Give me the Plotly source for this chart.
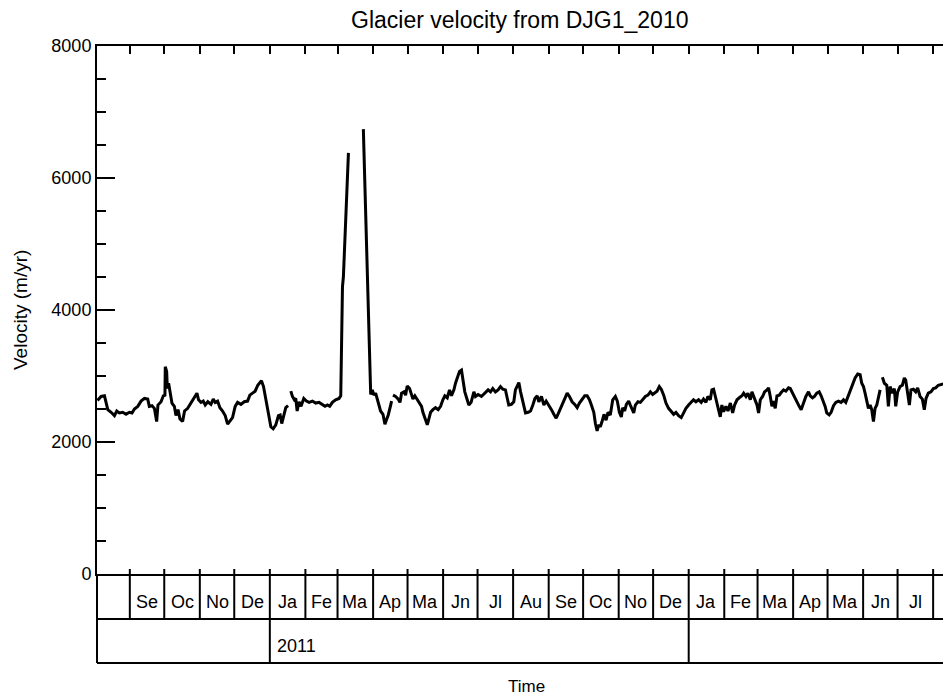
import pandas as pd
import plotly.graph_objects as go

# ---------------- data ----------------
# days since 2010-08-01 ; None in velocity = data gap
base_date = "2010-08-01"
day_offsets = [
    2.8, 6.0, 8.9, 10.3, 11.8, 14.7, 17.6, 19.6, 21.9, 24.8,
    27.7, 30.6, 32.9, 35.0, 37.9, 40.8, 43.7, 46.6, 48.0, 50.3,
    52.4, 54.4, 55.5, 58.2, 60.2, 61.6, 61.9, 63.1, 63.7, 64.8,
    66.0, 67.7, 69.8, 71.2, 73.0, 74.7, 77.0, 78.7, 81.4, 83.4,
    85.7, 88.0, 89.5, 90.9, 93.0, 95.0, 96.7, 99.0, 101.7, 103.7,
    105.4, 107.5, 109.5, 111.8, 114.1, 116.2, 118.2, 120.5, 122.8, 124.9,
    127.8, 130.7, 133.6, 135.6, 137.9, 140.2, 142.5, 145.7, 147.5, 149.5,
    151.8, 153.9, 155.9, 158.2, 160.5, 162.0, 163.4, 165.5, 166.9, 168.9,
    170.0,
    171.3, 172.7, 174.4, 175.6, 176.8, 178.5, 180.2, 182.6, 184.9, 187.2,
    190.1, 193.0, 195.9, 198.8, 201.1, 203.2, 205.2, 207.5, 210.4, 213.3,
    214.8, 216.3, 217.1, 221.5,
    228.0,
    234.5, 238.0, 240.9, 242.3, 243.7, 245.2, 246.6, 248.1, 249.5, 251.6,
    253.3, 254.5, 256.2, 258.3, 259.1,
    259.7,
    260.3, 262.6, 264.9, 266.4, 267.8, 269.9, 271.3, 272.7, 274.8, 276.5,
    277.7, 279.4, 281.5, 283.5, 285.2, 286.4, 288.1, 290.2, 291.6, 293.1,
    295.1, 297.4, 299.7, 301.8, 303.8, 305.5, 307.6, 309.6, 311.3, 313.4,
    314.8, 316.3, 318.3, 320.0, 321.2, 322.9, 325.0, 326.4, 328.4, 330.8,
    332.2, 334.5, 337.4, 340.3, 343.2, 345.3, 347.3, 349.6, 351.9, 354.0,
    356.0, 358.3, 359.8, 361.2, 363.5, 365.6, 367.0, 369.0, 370.0, 371.5,
    373.5, 375.8, 378.1, 380.2, 382.2, 384.0, 386.0, 387.4, 389.7, 391.8,
    393.8, 396.1, 398.4, 400.5, 402.5, 404.8, 407.1, 409.2, 412.1, 414.1,
    416.4, 418.7, 420.8, 422.8, 425.1, 427.4, 429.5, 431.5, 433.2, 435.3,
    436.7, 438.2, 439.6, 441.0, 442.5, 444.2, 446.0, 447.7, 449.7, 451.8,
    454.1, 455.8, 457.6, 459.3, 460.5, 462.2, 463.7, 465.7, 467.1, 468.6,
    470.1, 471.5, 473.8, 475.9, 477.9, 480.2, 482.5, 484.6, 486.6, 488.3,
    490.4, 492.4, 494.1, 496.2, 498.2, 500.5, 502.8, 504.9, 506.9, 509.2,
    511.5, 513.6, 515.6, 517.9, 520.2, 522.2, 524.3, 526.6, 528.9, 530.9,
    533.0, 534.7, 536.8, 538.2, 539.7, 541.1, 542.6, 544.0, 545.5, 546.9,
    548.4, 550.4, 552.2, 554.3, 556.3, 558.0, 560.1, 562.1, 564.4, 565.9,
    567.9, 569.6, 571.7, 573.1, 575.4, 577.5, 578.9, 580.4, 582.4, 584.1,
    586.2, 587.6, 589.1, 590.5, 591.9, 593.4, 594.9, 596.9, 598.6, 600.7,
    602.7, 605.0, 606.5, 607.9, 610.2, 612.3, 614.3, 616.0, 618.1, 620.1,
    622.4, 623.9, 625.9, 627.6, 629.6, 631.7, 633.4, 635.4, 636.9, 638.3,
    640.4, 642.1, 644.2, 646.2, 648.5, 650.8, 652.9, 654.9, 657.2, 658.7,
    660.7, 663.0, 665.3, 667.4, 668.8, 670.3, 671.7, 673.2, 674.6, 676.1,
    677.5, 679.0, 680.4, 681.9, 683.3, 684.8,
    685.8,
    686.8, 688.5, 690.6, 692.0, 693.5, 695.5, 697.2, 698.4, 700.1, 702.2,
    704.2, 705.9, 707.1, 708.8, 710.3, 711.7, 713.8, 715.8, 717.5, 719.6,
    721.6, 723.3, 724.8, 726.8, 729.1, 731.2, 733.2, 735.5, 737.8, 739.8,
]
velocity = [
    2630, 2690, 2700, 2590, 2490, 2450, 2400, 2470, 2440, 2450,
    2420, 2450, 2440, 2500, 2540, 2620, 2660, 2650, 2540, 2550,
    2510, 2310, 2560, 2610, 2700, 2710, 3140, 3070, 2810, 2890,
    2740, 2590, 2540, 2400, 2490, 2350, 2310, 2470, 2510, 2570,
    2640, 2690, 2740, 2640, 2600, 2620, 2560, 2610, 2570, 2650,
    2600, 2620, 2520, 2470, 2400, 2270, 2320, 2370, 2540, 2600,
    2570, 2610, 2620, 2710, 2740, 2770, 2860, 2930, 2840, 2640,
    2420, 2230, 2200, 2260, 2400, 2410, 2280, 2450, 2520, 2550,
    None,
    2770, 2690, 2640, 2660, 2470, 2610, 2540, 2660, 2620, 2600,
    2620, 2590, 2600, 2560, 2540, 2560, 2540, 2600, 2640, 2660,
    2700, 4350, 4500, 6380,
    None,
    6740, 4560, 2720, 2790, 2710, 2740, 2640, 2560, 2470, 2420,
    2270, 2330, 2410, 2560, 2620,
    None,
    2710, 2690, 2650, 2600, 2740, 2760, 2710, 2850, 2810, 2710,
    2650, 2700, 2640, 2600, 2540, 2450, 2360, 2260, 2350, 2450,
    2490, 2520, 2490, 2540, 2640, 2700, 2670, 2790, 2700, 2790,
    2890, 2970, 3070, 3090, 2940, 2760, 2640, 2560, 2600, 2760,
    2690, 2720, 2690, 2740, 2790, 2760, 2810, 2760, 2790, 2840,
    2800, 2790, 2660, 2560, 2570, 2610, 2790, 2860, 2900, 2760,
    2590, 2440, 2450, 2470, 2560, 2660, 2700, 2610, 2690, 2560,
    2620, 2560, 2490, 2420, 2360, 2450, 2540, 2620, 2740, 2690,
    2610, 2570, 2520, 2590, 2640, 2700, 2700, 2640, 2560, 2450,
    2280, 2170, 2260, 2230, 2310, 2420, 2330, 2450, 2410, 2640,
    2690, 2620, 2450, 2380, 2520, 2470, 2570, 2620, 2560, 2510,
    2440, 2560, 2610, 2600, 2650, 2690, 2710, 2760, 2720, 2740,
    2770, 2840, 2800, 2710, 2590, 2510, 2470, 2420, 2450, 2400,
    2370, 2440, 2510, 2560, 2600, 2640, 2610, 2640, 2600, 2650,
    2600, 2690, 2640, 2790, 2800, 2690, 2590, 2510, 2380, 2560,
    2460, 2540, 2470, 2590, 2440, 2560, 2640, 2670, 2700, 2740,
    2690, 2740, 2640, 2760, 2640, 2560, 2440, 2640, 2690, 2760,
    2790, 2820, 2690, 2540, 2620, 2510, 2700, 2710, 2750, 2790,
    2770, 2820, 2810, 2760, 2690, 2590, 2540, 2490, 2600, 2690,
    2760, 2700, 2670, 2690, 2740, 2760, 2700, 2620, 2540, 2440,
    2410, 2450, 2550, 2600, 2620, 2600, 2640, 2600, 2710, 2790,
    2870, 2970, 3030, 3020, 2890, 2840, 2740, 2610, 2510, 2560,
    2490, 2310, 2510, 2560, 2660, 2790,
    None,
    2980, 2890, 2860, 2540, 2840, 2740, 2810, 2540, 2760, 2840,
    2860, 2970, 2940, 2760, 2560, 2790, 2800, 2760, 2820, 2690,
    2650, 2490, 2660, 2740, 2760, 2810, 2820, 2860, 2870, 2880,
]

month_labels = ["Se", "Oc", "No", "De", "Ja", "Fe", "Ma", "Ap", "Ma", "Jn", "Jl", "Au",
                "Se", "Oc", "No", "De", "Ja", "Fe", "Ma", "Ap", "Ma", "Jn", "Jl"]
year_labels = {"2011-01-01": "2011"}
year_starts = ["2011-01-01", "2012-01-01"]
y_ticks = [0, 2000, 4000, 6000, 8000]

x_start_day, x_end_day = 2.4, 739.6

# ---------------- figure ----------------
base = pd.Timestamp(base_date)
x = [base + pd.Timedelta(days=d) for d in day_offsets]
x0 = base + pd.Timedelta(days=x_start_day)
x1 = base + pd.Timedelta(days=x_end_day)

FONT = "Liberation Sans, Arial, Helvetica, sans-serif"
W, H = 943, 698
ML, MR, MT, MB = 97, 0, 46, 124
PH = H - MT - MB  # plot height in px

def py(px_below):  # paper y for pixels below the x axis line
    return -px_below / PH

fig = go.Figure(go.Scatter(
    x=x, y=velocity, mode="lines", connectgaps=False,
    line=dict(color="black", width=3), hoverinfo="skip",
))

row1 = py(45)
row2 = py(89)

shapes = []
month_starts = pd.date_range("2010-09-01", "2012-08-01", freq="MS")
for ms in month_starts:
    shapes.append(dict(type="line", xref="x", yref="paper", x0=ms, x1=ms,
                       y0=row1, y1=5 / PH, line=dict(color="black", width=2)))
for ys in year_starts:
    shapes.append(dict(type="line", xref="x", yref="paper", x0=ys, x1=ys,
                       y0=row2, y1=row1, line=dict(color="black", width=2)))
for yy in (row1, row2):
    shapes.append(dict(type="line", xref="paper", yref="paper", x0=0, x1=1,
                       y0=yy, y1=yy, line=dict(color="black", width=2)))
shapes.append(dict(type="line", xref="paper", yref="paper", x0=0, x1=0,
                   y0=row2, y1=0, line=dict(color="black", width=2)))

annotations = []
for i, lab in enumerate(month_labels):
    a, b = month_starts[i], month_starts[i + 1]
    annotations.append(dict(x=a + (b - a) / 2, y=py(28), xref="x", yref="paper",
                            text=lab, showarrow=False, xanchor="center", yanchor="middle",
                            font=dict(family=FONT, size=18, color="black")))
for ys, lab in year_labels.items():
    annotations.append(dict(x=ys, y=py(72), xref="x", yref="paper", text=lab,
                            showarrow=False, xanchor="left", yanchor="middle", xshift=5,
                            font=dict(family=FONT, size=18, color="black")))
annotations.append(dict(x=(519 - ML) / (W - ML), y=1 + 26 / PH, xref="paper", yref="paper",
                        text="Glacier velocity from DJG1_2010", showarrow=False,
                        xanchor="center", yanchor="middle",
                        font=dict(family=FONT, size=23, color="black")))
annotations.append(dict(x=(526 - ML) / (W - ML), y=py(112), xref="paper", yref="paper",
                        text="Time", showarrow=False, xanchor="center", yanchor="middle",
                        font=dict(family=FONT, size=17, color="black")))
annotations.append(dict(x=(20 - ML) / (W - ML), y=0.5, xref="paper", yref="paper",
                        text="Velocity (m/yr)", showarrow=False, textangle=-90,
                        xanchor="center", yanchor="middle",
                        font=dict(family=FONT, size=19, color="black")))

fig.update_layout(
    width=W, height=H,
    margin=dict(l=ML, r=MR, t=MT, b=MB, pad=0),
    paper_bgcolor="white", plot_bgcolor="white",
    showlegend=False,
    shapes=shapes, annotations=annotations,
    xaxis=dict(
        type="date", range=[x0, x1], side="top",
        showgrid=False, zeroline=False,
        showline=True, mirror=True, linecolor="black", linewidth=2,
        ticks="inside", ticklen=8, tickwidth=2, tickcolor="black",
        tick0="2010-09-01", dtick="M1", showticklabels=False,
    ),
    yaxis=dict(
        range=[0, 8000], tickvals=y_ticks,
        showgrid=False, zeroline=False,
        showline=True, linecolor="black", linewidth=2,
        ticks="inside", ticklen=18, tickwidth=2, tickcolor="black",
        minor=dict(dtick=500, ticks="inside", ticklen=9, tickwidth=2, tickcolor="black"),
        tickfont=dict(family=FONT, size=18, color="black"),
    ),
)

fig.write_html("out.html")
